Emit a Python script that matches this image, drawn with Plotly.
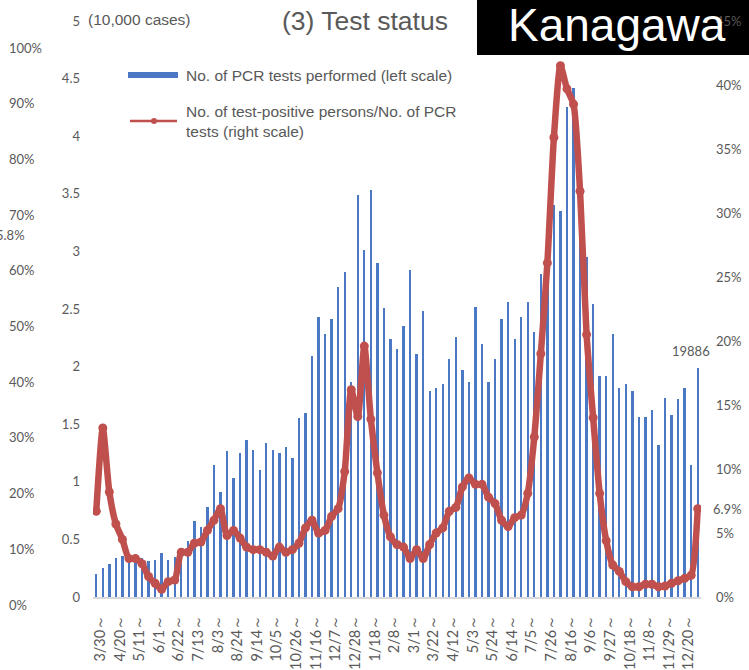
import pandas as pd
import plotly.graph_objects as go

# Weekly periods (week starting dates)
weeks = pd.date_range("2020-03-30", periods=93, freq="7D")
week_labels = [f"{d.month}/{d.day}～" for d in weeks]

# No. of PCR tests performed per week (unit: 10,000 cases)
pcr_tests = [
    0.196, 0.25, 0.29, 0.34, 0.36, 0.36, 0.36, 0.34, 0.31, 0.32,
    0.38, 0.32, 0.35, 0.42, 0.49, 0.66, 0.61, 0.78, 1.15, 0.91,
    1.27, 1.03, 1.25, 1.36, 1.28, 1.10, 1.34, 1.28, 1.25, 1.30,
    1.21, 1.55, 1.60, 2.09, 2.43, 2.28, 2.41, 2.69, 2.82, 1.87,
    3.49, 3.01, 3.53, 2.90, 2.51, 2.24, 2.15, 2.35, 2.84, 2.11,
    2.48, 1.79, 1.81, 1.85, 2.07, 2.26, 1.97, 1.87, 2.52, 2.20,
    1.87, 2.07, 2.41, 2.56, 2.24, 2.43, 2.56, 2.30, 2.80, 3.10,
    3.40, 3.35, 4.25, 4.42, 3.60, 2.95, 2.54, 1.92, 1.92, 2.28,
    1.81, 1.85, 1.79, 1.56, 1.56, 1.62, 1.32, 1.73, 1.58, 1.72,
    1.81, 1.15, 1.9886,
]

# No. of test-positive persons / No. of PCR tests (%)
positivity = [
    6.7, 13.2, 8.2, 5.7, 4.5, 3.0, 3.0, 2.6, 1.6, 1.07,
    0.6, 1.2, 1.33, 3.5, 3.5, 4.2, 4.3, 5.2, 6.0, 6.9,
    4.8, 5.2, 4.6, 3.9, 3.7, 3.7, 3.5, 3.2, 3.9, 3.5,
    3.7, 4.2, 5.4, 6.0, 5.0, 5.2, 6.3, 6.9, 9.8, 16.2,
    14.1, 19.6, 13.9, 9.7, 6.4, 4.7, 4.1, 3.9, 3.0, 3.7,
    3.0, 4.1, 5.0, 5.4, 6.7, 7.0, 8.6, 9.3, 8.8, 8.8,
    7.8, 7.3, 6.0, 5.5, 6.2, 6.4, 8.1, 12.5, 19.0, 26.1,
    35.9, 41.5, 39.7, 38.5, 31.7, 20.5, 14.0, 8.1, 4.4, 2.5,
    2.0, 1.2, 0.8, 0.8, 1.0, 1.0, 0.8, 0.86, 1.07, 1.27,
    1.46, 1.7, 6.9,
]

W, H = 749, 670
BLUE = "#4a78c5"
RED = "#c0504d"
GREY = "#595959"
NUM_FONT = "Lato"
TXT_FONT = "Liberation Sans"


def px(x):
    return x / W


def py(y):
    return 1 - y / H


fig = go.Figure()

fig.add_trace(go.Bar(
    x=week_labels, y=pcr_tests, yaxis="y", width=0.36,
    marker=dict(color=BLUE, line=dict(width=0)),
    name="No. of PCR tests performed (left scale)", showlegend=False,
))

fig.add_trace(go.Scatter(
    x=week_labels, y=positivity, yaxis="y2", mode="lines+markers",
    line=dict(color=RED, width=6.5, shape="spline", smoothing=0.6),
    marker=dict(color=RED, size=9),
    name="No. of test-positive persons/No. of PCR tests (right scale)",
    showlegend=False,
))

# empty series that carries the 0-100% scale on the far left
fig.add_trace(go.Scatter(
    x=[week_labels[0]], y=[None], yaxis="y3", mode="lines",
    showlegend=False, hoverinfo="skip",
))

plot_left, plot_right = 93, 701
y_dom = [py(597), py(21)]

fig.update_layout(
    width=W, height=H,
    margin=dict(l=0, r=0, t=0, b=0, autoexpand=False),
    paper_bgcolor="white", plot_bgcolor="rgba(0,0,0,0)",
    bargap=0,
    showlegend=False,
    xaxis=dict(
        type="category", domain=[px(plot_left), px(plot_right)],
        range=[-0.5, len(week_labels) - 0.5],
        tickvals=week_labels[::3], ticktext=week_labels[::3],
        tickangle=-90, ticks="", showgrid=False,
        showline=True, linecolor="#d9d9d9", linewidth=2,
        tickfont=dict(family=NUM_FONT, size=14.5, color=GREY),
        ticklabelstandoff=10, ticklabelshift=4,
        anchor="y", automargin=False,
    ),
    yaxis=dict(
        domain=y_dom, range=[0, 5], dtick=0.5,
        showgrid=False, zeroline=False, showline=False, ticks="",
        tickfont=dict(family=NUM_FONT, size=13, color=GREY),
        ticklabelstandoff=12, anchor="x", automargin=False,
    ),
    yaxis2=dict(
        overlaying="y", side="right", range=[0, 45], dtick=5,
        ticksuffix="%", showgrid=False, zeroline=False, showline=False,
        ticks="", tickfont=dict(family=NUM_FONT, size=13, color=GREY),
        ticklabelstandoff=14, anchor="x", automargin=False,
    ),
    yaxis3=dict(
        domain=[py(605), py(48)], range=[0, 100], dtick=10,
        ticksuffix="%", side="right", anchor="free", position=0,
        showgrid=False, zeroline=False, showline=False, ticks="",
        tickfont=dict(family=NUM_FONT, size=13, color=GREY),
        ticklabelstandoff=8, automargin=False,
    ),
)

shapes = [
    # black name plate
    dict(type="rect", xref="paper", yref="paper", layer="below",
         x0=px(477), x1=1, y0=py(55), y1=1,
         fillcolor="black", line=dict(width=0)),
    # legend swatches
    dict(type="line", xref="paper", yref="paper",
         x0=px(128), x1=px(178), y0=py(75), y1=py(75),
         line=dict(color=BLUE, width=6)),
    dict(type="line", xref="paper", yref="paper",
         x0=px(130), x1=px(177), y0=py(121), y1=py(121),
         line=dict(color=RED, width=2.5)),
    dict(type="circle", xref="paper", yref="paper",
         x0=px(151), x1=px(157), y0=py(124), y1=py(118),
         fillcolor=RED, line=dict(color=RED, width=0)),
]
fig.update_layout(shapes=shapes)

annotations = [
    dict(text="(10,000 cases)", x=px(86), y=py(20), xanchor="left",
         yanchor="middle", font=dict(family=TXT_FONT, size=15.5, color=GREY)),
    dict(text="(3) Test status", x=px(365), y=py(21), xanchor="center",
         yanchor="middle", font=dict(family=TXT_FONT, size=26.5, color=GREY)),
    dict(text="Kanagawa", x=px(617), y=py(25), xanchor="center",
         yanchor="middle", font=dict(family=TXT_FONT, size=46, color="white")),
    dict(text="No. of PCR tests performed (left scale)", x=px(184), y=py(75),
         xanchor="left", yanchor="middle", align="left",
         font=dict(family=TXT_FONT, size=15.5, color=GREY)),
    dict(text="No. of test-positive persons/No. of PCR<br>tests (right scale)",
         x=px(184), y=py(121), xanchor="left", yanchor="middle", align="left",
         font=dict(family=TXT_FONT, size=15.5, color=GREY)),
    dict(text="5.8%", x=px(27), y=py(235), xanchor="right", yanchor="middle",
         font=dict(family=NUM_FONT, size=13, color=GREY)),
]
for a in annotations:
    a.update(xref="paper", yref="paper", showarrow=False)

# value labels for the latest week
annotations.append(dict(
    text=f"{round(pcr_tests[-1] * 10000)}", x=week_labels[-1], y=pcr_tests[-1],
    xref="x", yref="y", yanchor="bottom", xanchor="center", yshift=7, xshift=-7,
    showarrow=False, font=dict(family=NUM_FONT, size=13, color=GREY),
))
annotations.append(dict(
    text=f"{positivity[-1]}%", x=px(711), y=positivity[-1], xref="paper",
    yref="y2", xanchor="left", yanchor="middle", showarrow=False,
    font=dict(family=NUM_FONT, size=13, color=GREY),
))
fig.update_layout(annotations=annotations)

fig.write_html("out.html")
